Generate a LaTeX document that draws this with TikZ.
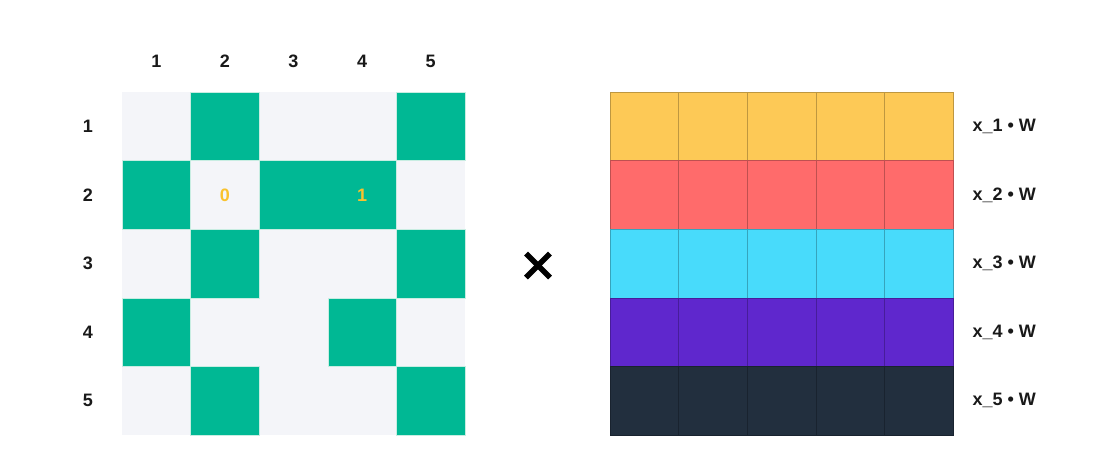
\documentclass[tikz,border=0pt]{standalone}
\usepackage{fontspec}
\setmainfont{Liberation Sans}
\usetikzlibrary{calc}
\definecolor{grn}{HTML}{00B894}
\definecolor{lgt}{HTML}{F4F5F9}
\definecolor{ylw}{HTML}{FDC956}
\definecolor{rd}{HTML}{FF6B6B}
\definecolor{cyn}{HTML}{48DBFB}
\definecolor{prp}{HTML}{5F27CD}
\definecolor{drk}{HTML}{222F3E}
\definecolor{num}{HTML}{F9C22E}
\definecolor{cellline}{HTML}{C8EDE2}
\tikzset{
  lbl/.style={font=\bfseries\fontsize{18}{21}\selectfont, text=black!90},
  numlbl/.style={font=\bfseries\fontsize{18}{21}\selectfont, text=num},
  rlbl/.style={font=\bfseries\fontsize{18}{21}\selectfont, text=black!90, anchor=west},
  gcell/.style={fill=grn, draw=cellline, line width=0.6pt},
}
\begin{document}
\begin{tikzpicture}[x=1pt,y=-1pt]
\useasboundingbox (0,0) rectangle (1111,467);
\def\s{68.6}
% left grid background
\fill[lgt] (122,92) rectangle ++(5*\s,5*\s);
\foreach \r/\c/\w in {1/2/1,1/5/1,2/1/1,2/3/2,3/2/1,3/5/1,4/1/1,4/4/1,5/2/1,5/5/1}{
  \filldraw[gcell] (122+\c*\s-\s,92+\r*\s-\s) rectangle ++(\w*\s,\s);
}
% column / row labels
\foreach \c in {1,...,5}{
  \node[lbl] (col\c) at (122+\c*\s-\s/2,61) {\c};
  \node[lbl] (row\c) at (88,92+\c*\s-\s/2) {\c};
}
\node[numlbl] (zero) at (122+1.5*\s,92+1.5*\s) {0};
\node[numlbl] (one) at (122+3.5*\s,92+1.5*\s) {1};
% cross
\coordinate (xc) at (538,265.5);
\draw[line width=5.5pt, black] ($(xc)+(-12,-12)$) -- ($(xc)+(12,12)$);
\draw[line width=5.5pt, black] ($(xc)+(-12,12)$) -- ($(xc)+(12,-12)$);
% right grid
\foreach \r/\col in {1/ylw,2/rd,3/cyn,4/prp,5/drk}{
  \foreach \c in {1,...,5}{
    \pgfmathsetmacro{\xa}{610+(\c-1)*\s}
    \pgfmathsetmacro{\ya}{92+(\r-1)*\s}
    \filldraw[fill=\col, draw=\col!75!black, line width=0.6pt] (\xa,\ya) rectangle ++(\s,\s);
  }
  \node[rlbl] (w\r) at (969,92+\r*\s-\s/2) {x\_\r\ •\ W};
}
\end{tikzpicture}
\end{document}
